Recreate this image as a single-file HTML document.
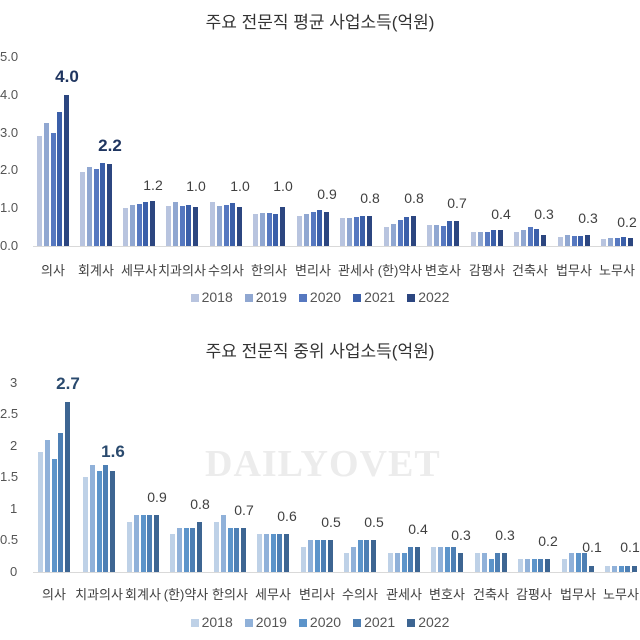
<!DOCTYPE html>
<html><head><meta charset="utf-8">
<style>
*{margin:0;padding:0;box-sizing:border-box}
body{width:640px;height:640px;background:#fff;position:relative;overflow:hidden;font-family:"Liberation Sans","Noto Sans CJK KR",sans-serif;color:#404040}
.t{position:absolute;left:0;width:640px;text-align:center;font-size:17px;color:#333}
.ax{position:absolute;left:33px;width:600px;height:1px;background:#d9d9d9}
.yl{position:absolute;left:0;font-size:13px;color:#555;line-height:14px}
.ch{position:absolute;left:0;top:0;width:640px}
.g{position:absolute;bottom:0;width:32px;display:flex;align-items:flex-end;gap:1.75px}
.g i{display:block;width:5px}
.c1 .g i:nth-child(1){background:#b8c4df}.c1 .g i:nth-child(2){background:#90a7d1}.c1 .g i:nth-child(3){background:#5678c0}.c1 .g i:nth-child(4){background:#3b5fa9}.c1 .g i:nth-child(5){background:#2c4680}
.c2 .g i:nth-child(1){background:#bed1e7}.c2 .g i:nth-child(2){background:#90b1d9}.c2 .g i:nth-child(3){background:#5c94ca}.c2 .g i:nth-child(4){background:#4d7fb4}.c2 .g i:nth-child(5){background:#3d6592}
.v{position:absolute;width:40px;left:10px;text-align:center;font-size:14px;color:#404040}
.b{font-weight:bold;font-size:17px;color:#1f3560}
.c2 .b{color:#2a4a6e}
.cl{position:absolute;width:60px;text-align:center;font-size:13px;color:#404040;white-space:nowrap}
.lg{position:absolute;left:0;width:640px;text-align:center;font-size:14px;color:#555}
.lg span{margin:0 6px}
.lg b{display:inline-block;width:8px;height:8px;margin-right:3px;vertical-align:0}
.wm{position:absolute;left:205px;top:442px;font-family:"Liberation Serif",serif;font-weight:bold;font-size:38px;color:#ececec;letter-spacing:1px}
</style></head><body>
<div class="wm">DAILYOVET</div>
<div class="t" style="top:8px">주요 전문직 평균 사업소득(억원)</div>
<div class="yl" style="top:50px">5.0</div>
<div class="yl" style="top:88px">4.0</div>
<div class="yl" style="top:126px">3.0</div>
<div class="yl" style="top:163px">2.0</div>
<div class="yl" style="top:201px">1.0</div>
<div class="yl" style="top:239px">0.0</div>
<div class="ax" style="top:246px"></div>
<div class="ch c1" style="height:246px">
<div class="g" style="left:37px"><i style="height:110px"></i><i style="height:123px"></i><i style="height:113px"></i><i style="height:134px"></i><i style="height:151px"></i><div class="v b" style="bottom:159px">4.0</div></div>
<div class="g" style="left:80px"><i style="height:74px"></i><i style="height:79px"></i><i style="height:77px"></i><i style="height:83px"></i><i style="height:82px"></i><div class="v b" style="bottom:90px">2.2</div></div>
<div class="g" style="left:123px"><i style="height:38px"></i><i style="height:41px"></i><i style="height:42px"></i><i style="height:44px"></i><i style="height:45px"></i><div class="v" style="bottom:53px">1.2</div></div>
<div class="g" style="left:166px"><i style="height:40px"></i><i style="height:44px"></i><i style="height:40px"></i><i style="height:41px"></i><i style="height:39px"></i><div class="v" style="bottom:52px">1.0</div></div>
<div class="g" style="left:210px"><i style="height:44px"></i><i style="height:40px"></i><i style="height:41px"></i><i style="height:43px"></i><i style="height:39px"></i><div class="v" style="bottom:52px">1.0</div></div>
<div class="g" style="left:253px"><i style="height:32px"></i><i style="height:33px"></i><i style="height:33px"></i><i style="height:32px"></i><i style="height:39px"></i><div class="v" style="bottom:52px">1.0</div></div>
<div class="g" style="left:297px"><i style="height:30px"></i><i style="height:32px"></i><i style="height:34px"></i><i style="height:36px"></i><i style="height:34px"></i><div class="v" style="bottom:44px">0.9</div></div>
<div class="g" style="left:340px"><i style="height:28px"></i><i style="height:28px"></i><i style="height:29px"></i><i style="height:30px"></i><i style="height:30px"></i><div class="v" style="bottom:40px">0.8</div></div>
<div class="g" style="left:384px"><i style="height:19px"></i><i style="height:22px"></i><i style="height:26px"></i><i style="height:29px"></i><i style="height:30px"></i><div class="v" style="bottom:40px">0.8</div></div>
<div class="g" style="left:427px"><i style="height:21px"></i><i style="height:21px"></i><i style="height:20px"></i><i style="height:25px"></i><i style="height:25px"></i><div class="v" style="bottom:35px">0.7</div></div>
<div class="g" style="left:471px"><i style="height:14px"></i><i style="height:14px"></i><i style="height:14px"></i><i style="height:16px"></i><i style="height:16px"></i><div class="v" style="bottom:24px">0.4</div></div>
<div class="g" style="left:514px"><i style="height:14px"></i><i style="height:16px"></i><i style="height:19px"></i><i style="height:17px"></i><i style="height:11px"></i><div class="v" style="bottom:24px">0.3</div></div>
<div class="g" style="left:558px"><i style="height:9px"></i><i style="height:11px"></i><i style="height:10px"></i><i style="height:10px"></i><i style="height:11px"></i><div class="v" style="bottom:20px">0.3</div></div>
<div class="g" style="left:601px"><i style="height:7px"></i><i style="height:8px"></i><i style="height:8px"></i><i style="height:9px"></i><i style="height:8px"></i><div class="v" style="bottom:16px;left:6px">0.2</div></div>
</div>
<div class="cl" style="top:260px;left:23px">의사</div>
<div class="cl" style="top:260px;left:66px">회계사</div>
<div class="cl" style="top:260px;left:109px">세무사</div>
<div class="cl" style="top:260px;left:152px">치과의사</div>
<div class="cl" style="top:260px;left:196px">수의사</div>
<div class="cl" style="top:260px;left:239px">한의사</div>
<div class="cl" style="top:260px;left:283px">변리사</div>
<div class="cl" style="top:260px;left:326px">관세사</div>
<div class="cl" style="top:260px;left:370px">(한)약사</div>
<div class="cl" style="top:260px;left:413px">변호사</div>
<div class="cl" style="top:260px;left:457px">감평사</div>
<div class="cl" style="top:260px;left:500px">건축사</div>
<div class="cl" style="top:260px;left:544px">법무사</div>
<div class="cl" style="top:260px;left:587px">노무사</div>
<div class="lg" style="top:289px"><span><b style="background:#b8c4df"></b>2018</span><span><b style="background:#90a7d1"></b>2019</span><span><b style="background:#5678c0"></b>2020</span><span><b style="background:#3b5fa9"></b>2021</span><span><b style="background:#2c4680"></b>2022</span></div>

<div class="t" style="top:337px">주요 전문직 중위 사업소득(억원)</div>
<div class="yl" style="top:376px;left:10px">3</div>
<div class="yl" style="top:407px">2.5</div>
<div class="yl" style="top:439px;left:10px">2</div>
<div class="yl" style="top:470px">1.5</div>
<div class="yl" style="top:502px;left:10px">1</div>
<div class="yl" style="top:533px">0.5</div>
<div class="yl" style="top:565px;left:10px">0</div>
<div class="ax" style="top:572px"></div>
<div class="ch c2" style="height:572px">
<div class="g" style="left:38px"><i style="height:120px"></i><i style="height:132px"></i><i style="height:113px"></i><i style="height:139px"></i><i style="height:170px"></i><div class="v b" style="bottom:178px">2.7</div></div>
<div class="g" style="left:83px"><i style="height:95px"></i><i style="height:107px"></i><i style="height:101px"></i><i style="height:107px"></i><i style="height:101px"></i><div class="v b" style="bottom:110px">1.6</div></div>
<div class="g" style="left:127px"><i style="height:50px"></i><i style="height:57px"></i><i style="height:57px"></i><i style="height:57px"></i><i style="height:57px"></i><div class="v" style="bottom:67px">0.9</div></div>
<div class="g" style="left:170px"><i style="height:38px"></i><i style="height:44px"></i><i style="height:44px"></i><i style="height:44px"></i><i style="height:50px"></i><div class="v" style="bottom:60px">0.8</div></div>
<div class="g" style="left:214px"><i style="height:50px"></i><i style="height:57px"></i><i style="height:44px"></i><i style="height:44px"></i><i style="height:44px"></i><div class="v" style="bottom:54px">0.7</div></div>
<div class="g" style="left:257px"><i style="height:38px"></i><i style="height:38px"></i><i style="height:38px"></i><i style="height:38px"></i><i style="height:38px"></i><div class="v" style="bottom:48px">0.6</div></div>
<div class="g" style="left:301px"><i style="height:25px"></i><i style="height:32px"></i><i style="height:32px"></i><i style="height:32px"></i><i style="height:32px"></i><div class="v" style="bottom:42px">0.5</div></div>
<div class="g" style="left:344px"><i style="height:19px"></i><i style="height:25px"></i><i style="height:32px"></i><i style="height:32px"></i><i style="height:32px"></i><div class="v" style="bottom:42px">0.5</div></div>
<div class="g" style="left:388px"><i style="height:19px"></i><i style="height:19px"></i><i style="height:19px"></i><i style="height:25px"></i><i style="height:25px"></i><div class="v" style="bottom:35px">0.4</div></div>
<div class="g" style="left:431px"><i style="height:25px"></i><i style="height:25px"></i><i style="height:25px"></i><i style="height:25px"></i><i style="height:19px"></i><div class="v" style="bottom:29px">0.3</div></div>
<div class="g" style="left:475px"><i style="height:19px"></i><i style="height:19px"></i><i style="height:13px"></i><i style="height:19px"></i><i style="height:19px"></i><div class="v" style="bottom:29px">0.3</div></div>
<div class="g" style="left:518px"><i style="height:13px"></i><i style="height:13px"></i><i style="height:13px"></i><i style="height:13px"></i><i style="height:13px"></i><div class="v" style="bottom:23px">0.2</div></div>
<div class="g" style="left:562px"><i style="height:13px"></i><i style="height:19px"></i><i style="height:19px"></i><i style="height:19px"></i><i style="height:6px"></i><div class="v" style="bottom:17px">0.1</div></div>
<div class="g" style="left:605px"><i style="height:6px"></i><i style="height:6px"></i><i style="height:6px"></i><i style="height:6px"></i><i style="height:6px"></i><div class="v" style="bottom:17px;left:5px">0.1</div></div>
</div>
<div class="cl" style="top:584px;left:24px">의사</div>
<div class="cl" style="top:584px;left:69px">치과의사</div>
<div class="cl" style="top:584px;left:113px">회계사</div>
<div class="cl" style="top:584px;left:156px">(한)약사</div>
<div class="cl" style="top:584px;left:200px">한의사</div>
<div class="cl" style="top:584px;left:243px">세무사</div>
<div class="cl" style="top:584px;left:287px">변리사</div>
<div class="cl" style="top:584px;left:330px">수의사</div>
<div class="cl" style="top:584px;left:374px">관세사</div>
<div class="cl" style="top:584px;left:417px">변호사</div>
<div class="cl" style="top:584px;left:461px">건축사</div>
<div class="cl" style="top:584px;left:504px">감평사</div>
<div class="cl" style="top:584px;left:548px">법무사</div>
<div class="cl" style="top:584px;left:591px">노무사</div>
<div class="lg" style="top:614px"><span><b style="background:#bed1e7"></b>2018</span><span><b style="background:#90b1d9"></b>2019</span><span><b style="background:#5c94ca"></b>2020</span><span><b style="background:#4d7fb4"></b>2021</span><span><b style="background:#3d6592"></b>2022</span></div>
</body></html>
